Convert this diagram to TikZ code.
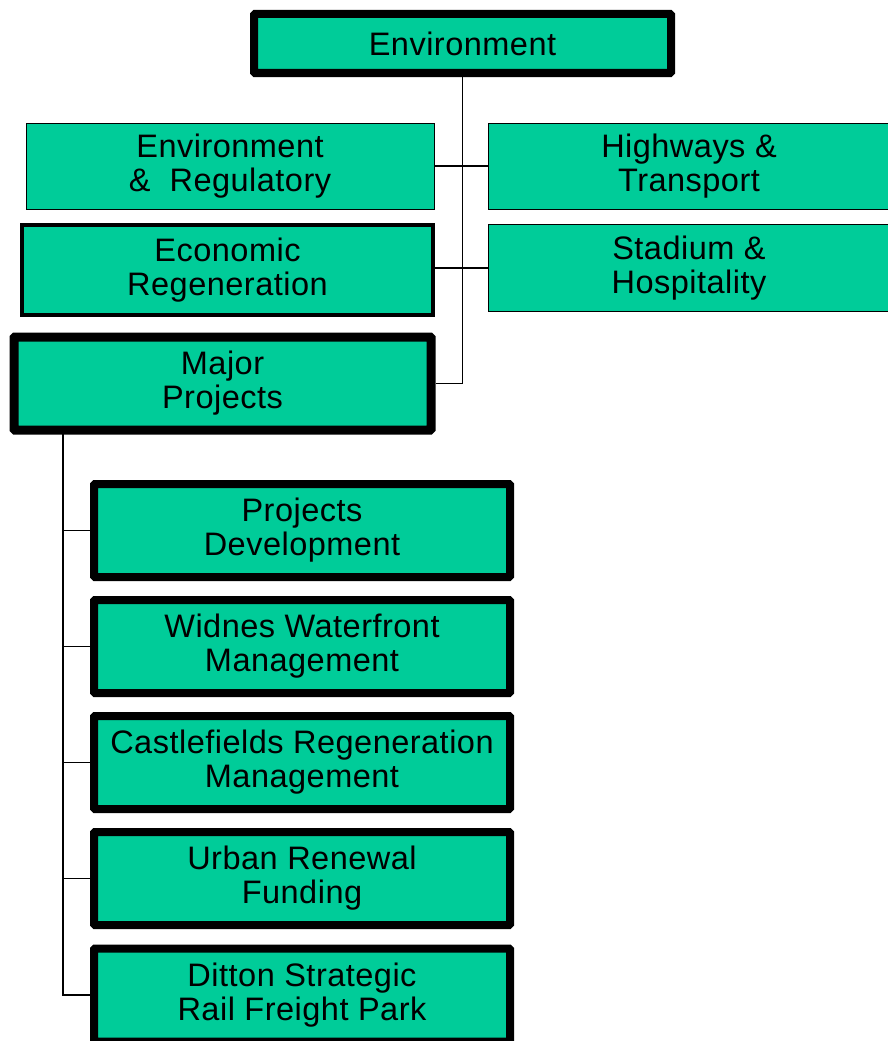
\documentclass[tikz,border=0pt]{standalone}
\usepackage{fontspec}
\setmainfont[LetterSpace=1.5]{Liberation Sans}
\definecolor{boxgreen}{RGB}{0,204,153}

\begin{document}
\begin{tikzpicture}[x=1pt,y=-1pt]
        \tikzstyle{every node}+=[inner sep=0pt, align=center, font=\fontsize{32.5}{34}\selectfont]
        \tikzstyle{unit}=[draw=black, fill=boxgreen, rectangle]
        \tikzstyle{thin}=[unit, line width=0.8pt]
        \tikzstyle{mid}=[unit, line width=3.5pt]
        \tikzstyle{heavy}=[unit, line width=8pt, rounded corners=1pt]
        \tikzstyle{link}=[black, line width=1.5pt]
        \useasboundingbox (0,0) rectangle (887,1041);
        % top of the tree
        \node [heavy, minimum width=417pt, minimum height=59pt] (env) at (462.5,43.5) {Environment};
        \node [thin, minimum width=408pt, minimum height=86pt] (envreg) at (230,166) {Environment\\\&\ \ Regulatory};
        \node [thin, minimum width=402pt, minimum height=86pt] (highways) at (689,166) {Highways \&\\Transport};
        \node [mid, minimum width=411pt, minimum height=90pt] (econ) at (227.5,270) {Economic\\Regeneration};
        \node [thin, minimum width=402pt, minimum height=87pt] (stadium) at (689,268) {Stadium \&\\Hospitality};
        \node [heavy, line width=9pt, minimum width=417pt, minimum height=93pt] (major) at (222.5,383.5) {Major\\Projects};
        % teams under major projects
        \node [heavy, minimum width=416pt, minimum height=93pt] (projdev) at (302,530.5) {Projects\\Development};
        \node [heavy, minimum width=416pt, minimum height=93pt] (widnes) at (302,646.5) {Widnes Waterfront\\Management};
        \node [heavy, minimum width=416pt, minimum height=93pt] (castle) at (302,762.5) {Castlefields Regeneration\\Management};
        \node [heavy, minimum width=416pt, minimum height=93pt] (urban) at (302,878.5) {Urban Renewal\\Funding};
        \node [heavy, minimum width=416pt, minimum height=93pt] (ditton) at (302,995) {Ditton Strategic\\Rail Freight Park};
        % connectors
        \coordinate (trunk) at (462.5,383.5);
        \coordinate (spine) at (63,430);
        \draw [link] (env.south) -- (trunk) -- (major.east);
        \draw [link] (envreg.east) -- (highways.west);
        \draw [link] (stadium.west) -- (stadium.west -| econ.east);
        \foreach \team in {projdev,widnes,castle,urban,ditton}
          \draw [link] (spine) |- (\team.west);
      \end{tikzpicture}
\end{document}
